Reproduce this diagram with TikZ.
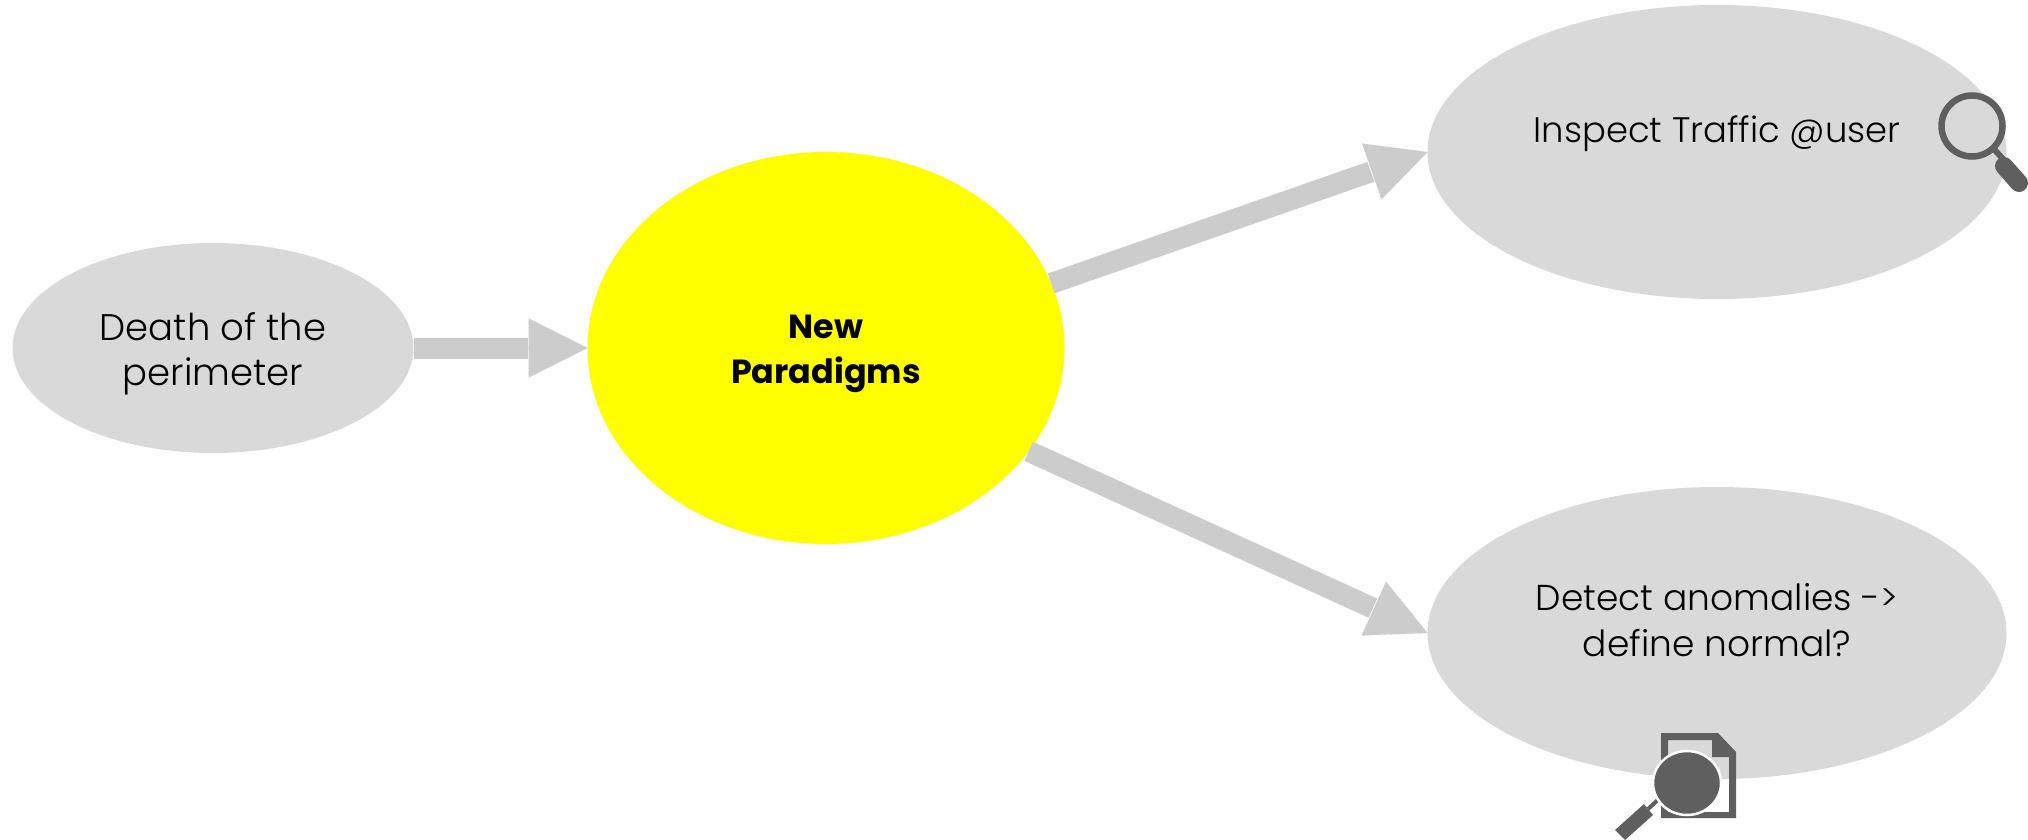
\documentclass[tikz,border=0pt]{standalone}
\usepackage{fontspec}
\setmainfont{Poppins}[UprightFont=* Light,BoldFont=* Bold]
\usetikzlibrary{shapes.geometric,arrows.meta}
\definecolor{blobgrey}{HTML}{D9D9D9}
\definecolor{arrowgrey}{HTML}{CCCCCC}
\definecolor{icongrey}{HTML}{5F5F5F}
\definecolor{pureyellow}{RGB}{255,255,0}
\tikzset{
  blob/.style={ellipse,fill=blobgrey,draw=none,inner sep=0pt,outer sep=0pt},
  label text/.style={align=center,font=\fontsize{36}{45.5}\selectfont,text=black,inner sep=0pt},
  flowshaft/.style={draw=arrowgrey,line width=21pt,shorten >=60pt},
  flowhead/.style={draw=arrowgrey,line width=0.1pt,-{Triangle[length=59pt,width=59pt,fill=arrowgrey]}},
  iconink/.style={fill=icongrey,draw=none},
}
\begin{document}
\begin{tikzpicture}[x=1pt,y=-1pt]
\useasboundingbox (0,0) rectangle (2028,840);
\fill[white] (0,0) rectangle (2028,840);
\node[blob,minimum width=401pt,minimum height=210pt] (death) at (213,348) {};
\node[blob,fill=pureyellow,minimum width=477pt,minimum height=392pt] (new) at (826,348) {};
\node[blob,minimum width=579pt,minimum height=294pt] (inspect) at (1717,152) {};
\node[blob,minimum width=579pt,minimum height=292pt] (detect) at (1717,633) {};
\node[label text,font=\fontsize{37}{45.5}\selectfont] (deathtext) at (213,354) {Death of the\\perimeter};
\node[label text,font=\fontsize{33.4}{45.5}\selectfont\bfseries] (newtext) at (826,354) {New\\Paradigms};
\node[label text,font=\fontsize{35.4}{45.5}\selectfont] (inspecttext) at (1717,134) {Inspect Traffic @user};
\node[label text] (detecttext) at (1717,620) {Detect anomalies ->\\define normal?};
\draw[flowshaft] (death.east) -- (new.west);
\draw[flowshaft] (new.16.3) -- (inspect.west);
\draw[flowshaft] (new.-27.9) -- (detect.west);
\draw[flowhead] (death.east) -- (new.west);
\draw[flowhead] (new.16.3) -- (inspect.west);
\draw[flowhead] (new.-27.9) -- (detect.west);
% magnifier on the upper ellipse
\draw[icongrey,line width=6.5pt] (1972,126) circle (30.5);
\draw[icongrey,line width=6pt] (1993,148) -- (2003,159);
\draw[icongrey,line width=18pt,line cap=round] (2004,166) -- (2019,183);
% document with magnifier on the lower ellipse
\path[iconink,even odd rule] (1661,733) -- (1718,733) -- (1736,752) -- (1736,818) -- (1661,818) -- cycle
  (1668,740) -- (1712,740) -- (1712,757) -- (1729,757) -- (1729,812) -- (1668,812) -- cycle;
\draw[icongrey,line width=4pt] (1660,798) -- (1648,809);
\path[iconink] (1644,804) -- (1653,815) -- (1625,840) -- (1615,830) -- cycle;
\path[iconink,draw=white,line width=2.5pt] (1687,783) ellipse (34 and 32);
\end{tikzpicture}
\end{document}
